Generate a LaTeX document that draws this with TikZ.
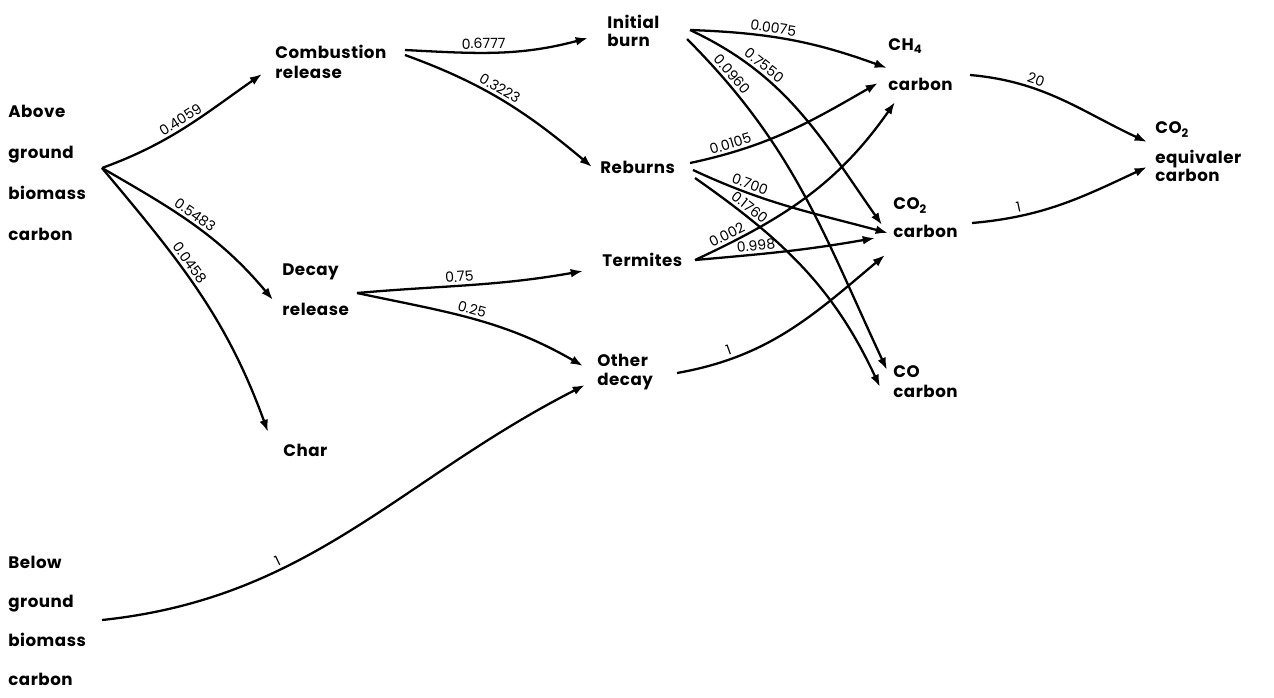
\documentclass[tikz,border=0pt]{standalone}
\usepackage{fontspec}
\setmainfont{Poppins}[LetterSpace=3]
\newfontfamily\numfont{Poppins}
\usetikzlibrary{arrows.meta}

\tikzset{
  txt/.style={anchor=west, inner sep=0pt, align=left, font=\fontsize{9.5}{11.4}\selectfont\bfseries},
  flow/.style={-{Latex[length=7pt,width=5pt]}, line width=1.3pt},
  lbl/.style={font=\numfont\fontsize{8}{9}\selectfont, inner sep=1.5pt, above, sloped}
}

\begin{document}
\begin{tikzpicture}[x=0.02cm, y=0.02cm]
    \useasboundingbox (0,0) rectangle (1274,-697);

    % nodes (pools)
    \node[txt] (above) at (8,-173) {Above\\[11.8pt]ground\\[11.8pt]biomass\\[11.8pt]carbon};
    \node[txt] (below) at (8,-621) {Below\\[10.7pt]ground\\[10.7pt]biomass\\[10.7pt]carbon};
    \node[txt] (comb) at (275,-62) {Combustion\\release};
    \node[txt] (decay) at (282,-290) {Decay\\[11.3pt]release};
    \node[txt] (char) at (283,-450) {Char};
    \node[txt] (initial) at (607,-31) {Initial\\[-1.2pt]burn};
    \node[txt] (reburns) at (600,-167) {Reburns};
    \node[txt] (termites) at (602,-260) {Termites};
    \node[txt] (other) at (597,-372) {Other\\[-0.1pt]decay};
    \node[txt] (ch4) at (888,-65) {CH\textsubscript{4}\\[11.3pt]carbon};
    \node[txt] (co2) at (893,-218) {CO\textsubscript{2}\\[4.6pt]carbon};
    \node[txt] (co) at (893,-382) {CO\\carbon};
    \node[txt] (co2eq) at (1155,-152) {CO\textsubscript{2}\\[5.6pt]equivaler\\[-1.2pt]carbon};

    % paths (left)
    \draw[flow] ([shift={(94,5)}]above.west) to[out=20,in=215] node[lbl,pos=.5] {0.4059} ([shift={(-13,-12)}]comb.west); % above -> combustion
    \draw[flow] ([shift={(94,5)}]above.west) to[out=-30,in=130] node[lbl,pos=.47] {0.5483} ([shift={(-9,-10)}]decay.west); % above -> decay
    \draw[flow] ([shift={(94,5)}]above.west) to[out=-50,in=110] node[lbl,pos=.4] {0.0458} ([shift={(-15,18)}]char.west); % above -> char
    \draw[flow] ([shift={(94,1)}]below.west) to[out=6,in=207] node[lbl,pos=.34] {1} ([shift={(-12,-13)}]other.west); % below -> other decay

    % paths (middle)
    \draw[flow] ([shift={(130,12)}]comb.west) to[out=-3,in=195] node[lbl,pos=.42] {0.6777} ([shift={(-19,-7)}]initial.west); % combustion -> initial burn
    \draw[flow] ([shift={(130,7)}]comb.west) to[out=-20,in=140] node[lbl,pos=.45] {0.3223} ([shift={(-8,0)}]reburns.west); % combustion -> reburns
    \draw[flow] ([shift={(75,-3)}]decay.west) to[out=5,in=190] node[lbl,pos=.45] {0.75} ([shift={(-19,-11)}]termites.west); % decay -> termites
    \draw[flow] ([shift={(75,-3)}]decay.west) to[out=-12,in=150] node[lbl,pos=.48] {0.25} ([shift={(-14,6)}]other.west); % decay -> other decay

    % paths (gases)
    \draw[flow] ([shift={(83,1)}]initial.west) to[out=-2,in=160] node[lbl,pos=.4] {0.0075} ([shift={(-1,-3)}]ch4.west); % initial -> CH4
    \draw[flow] ([shift={(83,1)}]initial.west) to[out=-25,in=125] node[lbl,pos=.28] {0.7550} ([shift={(-11,-7)}]co2.west); % initial -> CO2
    \draw[flow] ([shift={(80,-8)}]initial.west) to[out=-45,in=115] node[lbl,pos=.13] {0.0960} ([shift={(-6,12)}]co.west); % initial -> CO
    \draw[flow] ([shift={(90,4)}]reburns.west) to[out=12,in=210] node[lbl,pos=.2] {0.0105} ([shift={(-10,-18)}]ch4.west); % reburns -> CH4
    \draw[flow] ([shift={(93,-3)}]reburns.west) to[out=-25,in=165] node[lbl,pos=.27] {0.700} ([shift={(-5,-15)}]co2.west); % reburns -> CO2
    \draw[flow] ([shift={(95,-11)}]reburns.west) to[out=-35,in=115] node[lbl,pos=.2] {0.1760} ([shift={(-13,-5)}]co.west); % reburns -> CO
    \draw[flow] ([shift={(93,0)}]termites.west) to[out=25,in=235] node[lbl,pos=.14] {0.002} ([shift={(7,-37)}]ch4.west); % termites -> CH4
    \draw[flow] ([shift={(93,0)}]termites.west) to[out=5,in=190] node[lbl,pos=.33] {0.998} ([shift={(-18,-20)}]co2.west); % termites -> CO2
    \draw[flow] ([shift={(80,-1)}]other.west) to[out=10,in=220] node[lbl,pos=.22] {1} ([shift={(-8,-37)}]co2.west); % other decay -> CO2

    % paths (equivalent)
    \draw[flow] ([shift={(82,-10)}]ch4.west) to[out=-5,in=155] node[lbl,pos=.33] {20} ([shift={(-8,10)}]co2eq.west); % CH4 -> CO2 eq
    \draw[flow] ([shift={(79,-5)}]co2.west) to[out=5,in=205] node[lbl,pos=.25] {1} ([shift={(-8,-15)}]co2eq.west); % CO2 -> CO2 eq

\end{tikzpicture}
\end{document}
